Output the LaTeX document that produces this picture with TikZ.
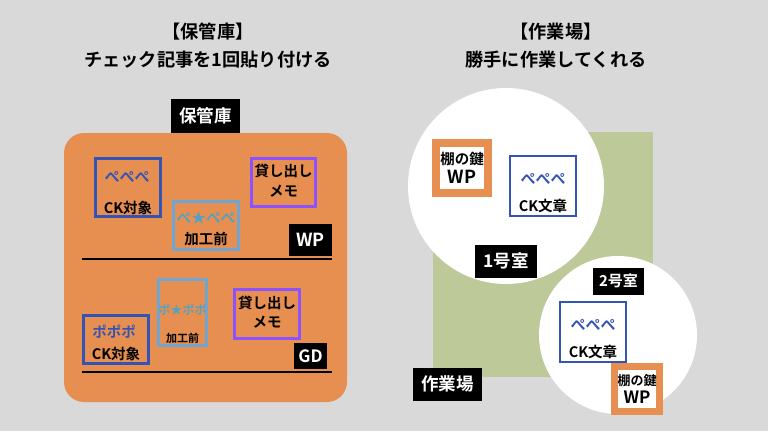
\documentclass[tikz,border=0pt]{standalone}
\usepackage{fontspec}
\usepackage{xcolor}
\setmainfont{Noto Sans CJK JP}[BoldFont={Noto Sans CJK JP Bold}]
\usetikzlibrary{positioning}
\definecolor{bgray}{HTML}{D9D9D9}
\definecolor{storeorange}{HTML}{E78F50}
\definecolor{workgreen}{HTML}{BDC998}
\definecolor{ckblue}{HTML}{3354B4}
\definecolor{rawblue}{HTML}{6FA5D3}
\definecolor{rawteal}{HTML}{5B9FBE}
\definecolor{memopurple}{HTML}{8C52FF}
\tikzset{
    lbl/.style={font=\bfseries\fontsize{#1}{#1}\selectfont, inner sep=0pt},
    tagbox/.style={fill=black, text=white, inner sep=0pt},
    sheet/.style={draw=#1, line width=3pt, fill=none, inner sep=0pt},
    keybox/.style={draw=storeorange, line width=8pt, fill=white, inner sep=0pt}
}

\begin{document}
\begin{tikzpicture}[x=1pt,y=-1pt]
    % Background
    \fill[bgray] (0,0) rectangle (768,431);
    \useasboundingbox (0,0) rectangle (768,431);

    % Titles
    \node[lbl=18.2] (titlea) at (208,32) {【保管庫】};
    \node[lbl=18.2] (titleb) at (208,60) {チェック記事を1回貼り付ける};
    \node[lbl=18.2] (titlec) at (556,32) {【作業場】};
    \node[lbl=18.2] (titled) at (556,60) {勝手に作業してくれる};

    % Storage
    \fill[storeorange, rounded corners=20pt] (64,133) rectangle (347,402);
    \node[tagbox, lbl=17.5, text=white, minimum width=69pt, minimum height=34pt] (store) at (205.5,116) {保管庫};
    \draw[line width=1.5pt] (82,259) -- (332,259);
    \draw[line width=1.5pt] (82,372) -- (332,372);
    \node[tagbox, lbl=18, text=white, minimum width=43pt, minimum height=32pt] (wp) at (310.5,240) {WP};
    \node[tagbox, lbl=17, text=white, minimum width=33pt, minimum height=26pt] (gd) at (310.5,356) {GD};

    % Upper shelf
    \node[sheet=ckblue, minimum width=65pt, minimum height=58pt] (cka) at (128,187.5) {};
    \node[lbl=15, text=ckblue] (cka1) at (127,177) {ぺぺぺ};
    \node[lbl=14.5] (cka2) at (128,208) {CK対象};
    \node[sheet=rawblue, minimum width=65pt, minimum height=48pt] (rawa) at (206,225.5) {};
    \node[lbl=14.7, text=rawteal] (rawa1) at (206,218) {ぺ★ぺぺ};
    \node[lbl=14.5, text=black] (rawa2) at (206,239) {加工前};
    \node[sheet=memopurple, minimum width=64pt, minimum height=48pt] (memoa) at (283.5,182.5) {};
    \node[lbl=14.5] (memoa1) at (283.5,171) {貸し出し};
    \node[lbl=14.5] (memoa2) at (283.5,191) {メモ};

    % Lower shelf
    \node[sheet=ckblue, minimum width=65pt, minimum height=48pt] (ckb) at (116,339.5) {};
    \node[lbl=14.5, text=ckblue] (ckb1) at (114,332) {ポポポ};
    \node[lbl=14.5] (ckb2) at (116,354) {CK対象};
    \node[sheet=rawblue, minimum width=48pt, minimum height=66pt] (rawb) at (182.5,312.5) {};
    \node[lbl=12, text=rawteal] (rawb1) at (182.5,310) {ポ★ポポ};
    \node[lbl=11, text=black] (rawb2) at (182.5,338) {加工前};
    \node[sheet=memopurple, minimum width=65pt, minimum height=49pt] (memob) at (267,314) {};
    \node[lbl=14.5] (memob1) at (267,303) {貸し出し};
    \node[lbl=14.5] (memob2) at (267,322) {メモ};

    % Work area
    \fill[workgreen] (433,132) rectangle (653,377);
    \fill[white] (506,186) circle (98);
    \fill[white] (618,335) circle (79);
    \node[tagbox, lbl=17.5, text=white, minimum width=62pt, minimum height=33pt] (rooma) at (506,261) {1号室};
    \node[tagbox, lbl=15, text=white, minimum width=51pt, minimum height=27pt] (roomb) at (618.5,281) {2号室};
    \node[tagbox, lbl=17.5, text=white, minimum width=69pt, minimum height=33pt] (work) at (447.5,384) {作業場};

    % Room 1
    \node[keybox, minimum width=52pt, minimum height=50pt] (keya) at (462,168) {};
    \node[lbl=14.5] (keya1) at (462,159) {棚の鍵};
    \node[lbl=18] (keya2) at (462,177) {WP};
    \node[sheet=ckblue, line width=2.5pt, minimum width=66pt, minimum height=60pt] (texta) at (543,186) {};
    \node[lbl=15, text=ckblue] (texta1) at (543,179) {ぺぺぺ};
    \node[lbl=14.5] (texta2) at (543,206) {CK文章};

    % Room 2
    \node[sheet=ckblue, line width=2.5pt, minimum width=66pt, minimum height=60pt] (textb) at (593,332) {};
    \node[lbl=15, text=ckblue] (textb1) at (593,325) {ぺぺぺ};
    \node[lbl=14.5] (textb2) at (593,352) {CK文章};
    \node[keybox, line width=7.5pt, minimum width=45pt, minimum height=45pt] (keyb) at (637,389) {};
    \node[lbl=13] (keyb1) at (637,381) {棚の鍵};
    \node[lbl=17] (keyb2) at (637,397) {WP};
\end{tikzpicture}
\end{document}
